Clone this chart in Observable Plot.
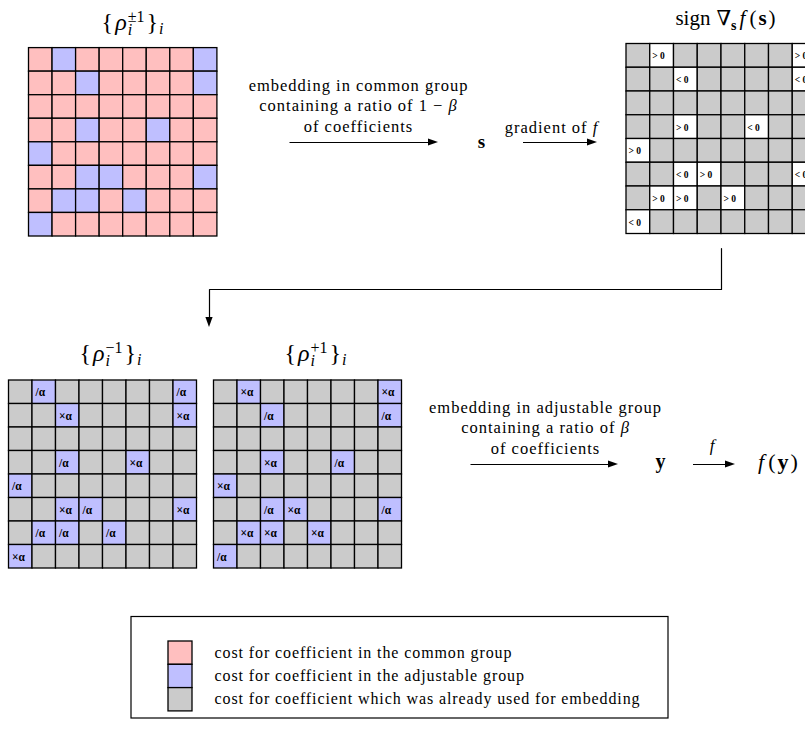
<!DOCTYPE html>
<html><head><meta charset="utf-8">
<script src="https://cdn.jsdelivr.net/npm/d3@7"></script>
<script src="https://cdn.jsdelivr.net/npm/@observablehq/plot@0.6"></script>
<style>
html,body{margin:0;padding:0;background:#fff;overflow:hidden;}
#chart svg{display:block;}
#chart svg text{font-family:"Liberation Serif","Times New Roman","DejaVu Serif",serif !important;}
</style></head><body><div id="chart"></div>
<script>
// ---------------- data ----------------
const gridRows = 8, gridCols = 8;
// coefficients of the adjustable group (row, column) and the sign of the gradient there
const adjustableRow = [0, 0, 1, 1, 3, 3, 4, 5, 5, 5, 6, 6, 6, 7];
const adjustableCol = [1, 7, 2, 7, 2, 5, 0, 2, 3, 7, 1, 2, 4, 0];
const gradientSign  = [">", ">", "<", "<", ">", "<", ">", "<", ">", "<", ">", ">", ">", "<"];
const costMinus = {">": "/α", "<": "×α"};
const costPlus  = {">": "×α", "<": "/α"};
const groupNames  = ["common", "adjustable", "used"];
const groupColors = ["#ffbfbf", "#bfbfff", "#cbcbcb"];
const legendLabels = [
  "cost for coefficient in the common group",
  "cost for coefficient in the adjustable group",
  "cost for coefficient which was already used for embedding"
];
const commonCaption = ["embedding in common group", "containing a ratio of 1 − β", "of coefficients"];
const adjustableCaption = ["embedding in adjustable group", "containing a ratio of β", "of coefficients"];
const gradientCaption = "gradient of f";
const supTexts = ["±1", "−1", "+1"];

// ---------------- layout ----------------
const FONT = '"Liberation Serif", "Times New Roman", "DejaVu Serif", serif';
const grids = {
  common: {x: 28.5, y: 47.6, s: 23.55},
  sign:   {x: 626,  y: 43.5, s: 23.75},
  minus:  {x: 8.5,  y: 380,  s: 23.5},
  plus:   {x: 213.5, y: 380, s: 23.5}
};
const color = Object.fromEntries(groupNames.map((g, i) => [g, groupColors[i]]));
const adjIndex = new Map(adjustableRow.map((r, i) => [r * gridCols + adjustableCol[i], i]));

function buildCells(g, fillFn, labelFn, kind) {
  const out = [];
  for (let r = 0; r < gridRows; r++) for (let c = 0; c < gridCols; c++) {
    const i = adjIndex.get(r * gridCols + c);
    out.push({kind, x1: g.x + c * g.s, x2: g.x + (c + 1) * g.s, y1: g.y + r * g.s, y2: g.y + (r + 1) * g.s,
      fill: fillFn(i), label: i == null ? null : labelFn(i)});
  }
  return out;
}
const cellsCommon = buildCells(grids.common, i => i == null ? color.common : color.adjustable, () => null, "common");
const cellsSign = buildCells(grids.sign, i => i == null ? color.used : "#ffffff", i => gradientSign[i] + " 0", "sign");
const cellsMinus = buildCells(grids.minus, i => i == null ? color.used : color.adjustable, i => costMinus[gradientSign[i]], "cost");
const cellsPlus = buildCells(grids.plus, i => i == null ? color.used : color.adjustable, i => costPlus[gradientSign[i]], "cost");
const allCells = [...cellsCommon, ...cellsSign, ...cellsMinus, ...cellsPlus];
const signLabels = allCells.filter(d => d.label && d.kind === "sign");
const costLabels = allCells.filter(d => d.label && d.kind === "cost");

// math layout via canvas measurement
const ctx = document.createElement("canvas").getContext("2d");
function tw(t, size, style) {
  ctx.font = `${style === "italic" ? "italic " : ""}${style === "bold" ? "bold " : ""}${size}px ${FONT}`;
  return ctx.measureText(t).width;
}
function layoutMath(tokens, cx, base) {
  const out = []; let x = 0;
  for (const tk of tokens) {
    const group = tk.stack || [tk];
    x += tk.gap || 0;
    let adv = 0;
    for (const p of group) {
      const style = p.style || "normal";
      out.push({x, y: base + (p.shift || 0), t: p.t, size: p.size, style});
      adv = Math.max(adv, tw(p.t, p.size, style));
    }
    x += adv;
  }
  return out.map(d => ({...d, x: d.x + cx - x / 2}));
}
const M = 24, S = 16;
function rhoTokens(sup) {
  return [
    {t: "{", size: M},
    {t: "ρ", size: M, style: "italic", gap: 2},
    {gap: 1, stack: [{t: "i", size: S, style: "italic", shift: 5}, {t: sup, size: S, shift: -8}]},
    {t: "}", size: M, gap: 2},
    {t: "i", size: S, style: "italic", shift: 4, gap: 1}
  ];
}
const MS = 21;
const signTokens = [
  {t: "sign", size: MS},
  {t: "∇", size: MS, gap: 6},
  {t: "s", size: 14, style: "bold", shift: 5},
  {t: "f", size: MS, style: "italic", gap: 3},
  {t: "(", size: MS, gap: 4},
  {t: "s", size: MS, style: "bold", gap: 2},
  {t: ")", size: MS, gap: 2}
];
const fyTokens = [
  {t: "f", size: 22, style: "italic"},
  {t: "(", size: 22, gap: 4},
  {t: "y", size: 22, style: "bold", gap: 2},
  {t: ")", size: 22, gap: 2}
];
const mathPieces = [
  ...layoutMath(rhoTokens(supTexts[0]), 132, 29),
  ...layoutMath(rhoTokens(supTexts[1]), 110, 360),
  ...layoutMath(rhoTokens(supTexts[2]), 315, 360),
  ...layoutMath(signTokens, 725, 24),
  ...layoutMath(fyTokens, 777.5, 468),
  ...layoutMath([{t: "s", size: 19, style: "bold"}], 481, 147),
  ...layoutMath([{t: "y", size: 20, style: "bold"}], 660, 467),
  ...layoutMath([{t: "f", size: 17, style: "italic"}], 711.5, 450)
];

const prose = [
  ...commonCaption.map((t, i) => ({t, x: 358, y: 90 + i * 20.8})),
  ...adjustableCaption.map((t, i) => ({t, x: 545, y: 412 + i * 20.6})),
  {t: gradientCaption, x: 551, y: 132}
];

const arrows = [
  {x1: 289, x2: 438, y: 142},
  {x1: 522.5, x2: 597, y: 142},
  {x1: 470, x2: 618, y: 464},
  {x1: 692.5, x2: 735, y: 464}
];
const HL = 10, HW = 3.6;
const heads = arrows.flatMap((a, k) => [
  {k, x: a.x2 - HL, y1: a.y - HW, y2: a.y + HW},
  {k, x: a.x2, y1: a.y, y2: a.y}
]);
const connector = [{x: 721, y: 248}, {x: 721, y: 289}, {x: 209, y: 289}, {x: 209, y: 320}];
const downHead = [{y: 317, x1: 209 - HW, x2: 209 + HW}, {y: 327, x1: 209, x2: 209}];

const legendBox = {x1: 131, x2: 668, y1: 616.5, y2: 718};
const legend = groupNames.map((g, i) => ({g, fill: groupColors[i], label: legendLabels[i],
  x1: 168, x2: 192, y1: 641 + i * 23.3, y2: 641 + (i + 1) * 23.3, tx: 214, ty: 657 + i * 23.3}));

const textMark = (data, style, extra = {}) => Plot.text(data.filter(d => d.style === style), {
  x: "x", y: "y", text: "t", fontSize: d => d.size, textAnchor: "start", lineAnchor: "bottom",
  fontFamily: FONT, fontStyle: style === "italic" ? "italic" : "normal", fontWeight: style === "bold" ? "bold" : "normal",
  fill: "black", ...extra
});

const plot = Plot.plot({
  width: 805, height: 735, margin: 0,
  x: {domain: [0, 805], range: [0, 805], axis: null},
  y: {domain: [0, 735], range: [0, 735], axis: null},
  color: {type: "identity"},
  style: {fontFamily: FONT, background: "white", overflow: "hidden"},
  marks: [
    Plot.rect(allCells, {x1: "x1", x2: "x2", y1: "y1", y2: "y2", fill: "fill", stroke: "black", strokeWidth: 1.3}),
    Plot.text(signLabels, {x: d => d.x1 + 2, y: d => (d.y1 + d.y2) / 2 + 3.5, text: "label", textAnchor: "start", lineAnchor: "bottom",
      fontSize: 9.5, fontWeight: "bold", fontFamily: FONT, fill: "black"}),
    Plot.text(costLabels, {x: d => d.x1 + 3, y: d => (d.y1 + d.y2) / 2 + 4, text: "label", textAnchor: "start", lineAnchor: "bottom",
      fontSize: 11.5, fontWeight: "bold", fontFamily: FONT, fill: "black"}),
    textMark(mathPieces, "normal"),
    textMark(mathPieces, "italic"),
    textMark(mathPieces, "bold"),
    Plot.text(prose, {x: "x", y: "y", text: "t", fontSize: 16.5, textAnchor: "middle", lineAnchor: "bottom", fontFamily: FONT, fill: "black"}),
    Plot.link(arrows, {x1: "x1", x2: d => d.x2 - 4, y1: "y", y2: "y", stroke: "black", strokeWidth: 1.2}),
    Plot.areaY(heads, {x: "x", y1: "y1", y2: "y2", z: "k", fill: "black"}),
    Plot.line(connector, {x: "x", y: "y", stroke: "black", strokeWidth: 1.2}),
    Plot.areaX(downHead, {y: "y", x1: "x1", x2: "x2", fill: "black"}),
    Plot.rect([legendBox], {x1: "x1", x2: "x2", y1: "y1", y2: "y2", fill: "none", stroke: "black", strokeWidth: 1.2}),
    Plot.rect(legend, {x1: "x1", x2: "x2", y1: "y1", y2: "y2", fill: "fill", stroke: "black", strokeWidth: 1.3}),
    Plot.text(legend, {x: "tx", y: "ty", text: "label", fontSize: 16, textAnchor: "start", lineAnchor: "bottom", fontFamily: FONT, fill: "black"})
  ]
});

// post-process: letter spacing for prose, italic math symbols inside prose
const proseSet = new Set([...commonCaption, ...adjustableCaption, gradientCaption]);
const legendSet = new Set(legendLabels);
plot.querySelectorAll("text").forEach(el => {
  const s = el.textContent;
  if (proseSet.has(s)) {
    el.style.letterSpacing = "1px";
    const last = s.slice(-1);
    if (last === "β" || last === "f") {
      el.textContent = s.slice(0, -1);
      const ts = document.createElementNS("http://www.w3.org/2000/svg", "tspan");
      ts.setAttribute("font-style", "italic");
      ts.textContent = last;
      el.appendChild(ts);
    }
  } else if (legendSet.has(s)) {
    el.style.letterSpacing = "0.9px";
  }
});
document.getElementById("chart").appendChild(plot);
</script></body></html>
